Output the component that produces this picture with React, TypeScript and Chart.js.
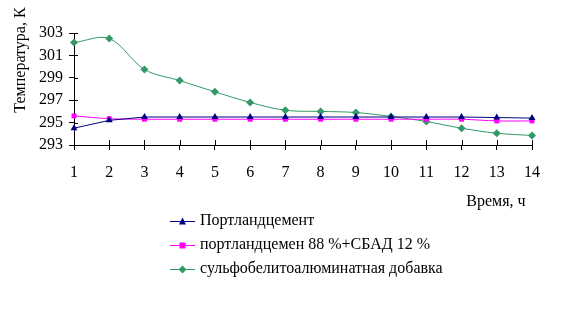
import React, { useEffect, useRef } from "react";
import { Chart, registerables } from "chart.js";

Chart.register(...registerables);

const hours = ["1", "2", "3", "4", "5", "6", "7", "8", "9", "10", "11", "12", "13", "14"];
const portland = [294.5, 295.2, 295.5, 295.5, 295.5, 295.5, 295.5, 295.5, 295.5, 295.5, 295.5, 295.5, 295.45, 295.4];
const portlandSbad = [295.6, 295.35, 295.3, 295.3, 295.3, 295.3, 295.3, 295.3, 295.3, 295.3, 295.3, 295.3, 295.15, 295.15];
const sulfo = [302.15, 302.5, 299.75, 298.75, 297.75, 296.8, 296.1, 296.0, 295.9, 295.55, 295.1, 294.5, 294.05, 293.85];
const seriesNames = ["Портландцемент", "портландцемен 88 %+СБАД 12 %", "сульфобелитоалюминатная добавка"];
const yTitle = "Температура, К";
const xTitle = "Время, ч";

const FONT = "'Liberation Serif', 'Times New Roman', serif";
const colors = ["#000080", "#FF00FF", "#339966"];
const markers = ["triangle", "rect", "rectRot"];

const extras = {
  id: "extras",
  afterDraw(chart: any) {
    const ctx = chart.ctx as CanvasRenderingContext2D;
    const xs = chart.scales.x;
    const ys = chart.scales.y;
    const area = chart.chartArea;
    ctx.save();
    ctx.strokeStyle = "#000";
    ctx.lineWidth = 1;
    // inward halves of crossing tick marks
    ctx.beginPath();
    xs.ticks.forEach((_: any, i: number) => {
      const px = Math.round(xs.getPixelForTick(i)) + 0.5;
      ctx.moveTo(px, area.bottom);
      ctx.lineTo(px, area.bottom - 5);
    });
    ys.ticks.forEach((_: any, i: number) => {
      const py = Math.round(ys.getPixelForTick(i)) + 0.5;
      ctx.moveTo(area.left, py);
      ctx.lineTo(area.left + 4, py);
    });
    ctx.stroke();

    ctx.fillStyle = "#000";
    ctx.font = "16px " + FONT;
    // y title
    ctx.save();
    ctx.translate(21, 60);
    ctx.rotate(-Math.PI / 2);
    ctx.textAlign = "center";
    ctx.textBaseline = "middle";
    ctx.fillText(yTitle, 0, 0);
    ctx.restore();
    // x title
    ctx.textAlign = "center";
    ctx.textBaseline = "middle";
    ctx.fillText(xTitle, 496, 202);

    // legend
    const rows = [221, 245, 269];
    chart.data.datasets.forEach((ds: any, i: number) => {
      const y = rows[i] + 0.5;
      ctx.strokeStyle = colors[i];
      ctx.lineWidth = 1;
      ctx.beginPath();
      ctx.moveTo(170, y);
      ctx.lineTo(195, y);
      ctx.stroke();
      ctx.fillStyle = colors[i];
      ctx.beginPath();
      const cx = 182.5;
      if (markers[i] === "triangle") {
        ctx.moveTo(cx, y - 4);
        ctx.lineTo(cx + 3.5, y + 3);
        ctx.lineTo(cx - 3.5, y + 3);
      } else if (markers[i] === "rect") {
        ctx.rect(cx - 3, y - 3, 6, 6);
      } else {
        ctx.moveTo(cx, y - 4);
        ctx.lineTo(cx + 4, y);
        ctx.lineTo(cx, y + 4);
        ctx.lineTo(cx - 4, y);
      }
      ctx.closePath();
      ctx.fill();
      ctx.fillStyle = "#000";
      ctx.textAlign = "left";
      ctx.textBaseline = "middle";
      ctx.fillText(ds.label, 200, rows[i]);
    });
    ctx.restore();
  },
};

export default function App() {
  const ref = useRef<HTMLCanvasElement>(null);
  useEffect(() => {
    if (!ref.current) return;
    const mk = (label: string, data: number[], i: number, tension: number) => ({
      label,
      data,
      borderColor: colors[i],
      backgroundColor: colors[i],
      borderWidth: 1,
      pointStyle: markers[i],
      pointRadius: markers[i] === "rect" ? 3.5 : 4,
      pointBorderWidth: 0,
      tension,
      fill: false,
    });
    const chart = new Chart(ref.current, {
      type: "line",
      data: {
        labels: hours,
        datasets: [
          mk(seriesNames[0], portland, 0, 0),
          mk(seriesNames[1], portlandSbad, 1, 0.3),
          mk(seriesNames[2], sulfo, 2, 0.35),
        ],
      },
      options: {
        animation: false,
        responsive: false,
        maintainAspectRatio: false,
        layout: { padding: { left: 0, top: 33, right: 30, bottom: 0 } },
        plugins: { legend: { display: false }, tooltip: { enabled: false } },
        scales: {
          x: {
            offset: false,
            grid: { display: true, drawOnChartArea: false, drawTicks: true, tickLength: 5, color: "#000" },
            border: { color: "#000" },
            ticks: { color: "#000", font: { family: FONT, size: 16 }, padding: 13, maxRotation: 0, autoSkip: false },
            afterFit: (s: any) => { s.height = 318 - 145; },
          },
          y: {
            min: 293,
            max: 303,
            grid: { display: true, drawOnChartArea: false, drawTicks: true, tickLength: 5, color: "#000" },
            border: { color: "#000" },
            ticks: { stepSize: 2, color: "#000", font: { family: FONT, size: 16 }, padding: 6 },
            afterFit: (s: any) => { s.width = 74; },
          },
        },
      },
      plugins: [extras],
    });
    return () => chart.destroy();
  }, []);
  return (
    <div style={{ position: "fixed", left: 0, top: 0, width: 562, height: 318, background: "#fff" }}>
      <canvas ref={ref} width={562} height={318} style={{ width: 562, height: 318 }} />
    </div>
  );
}
